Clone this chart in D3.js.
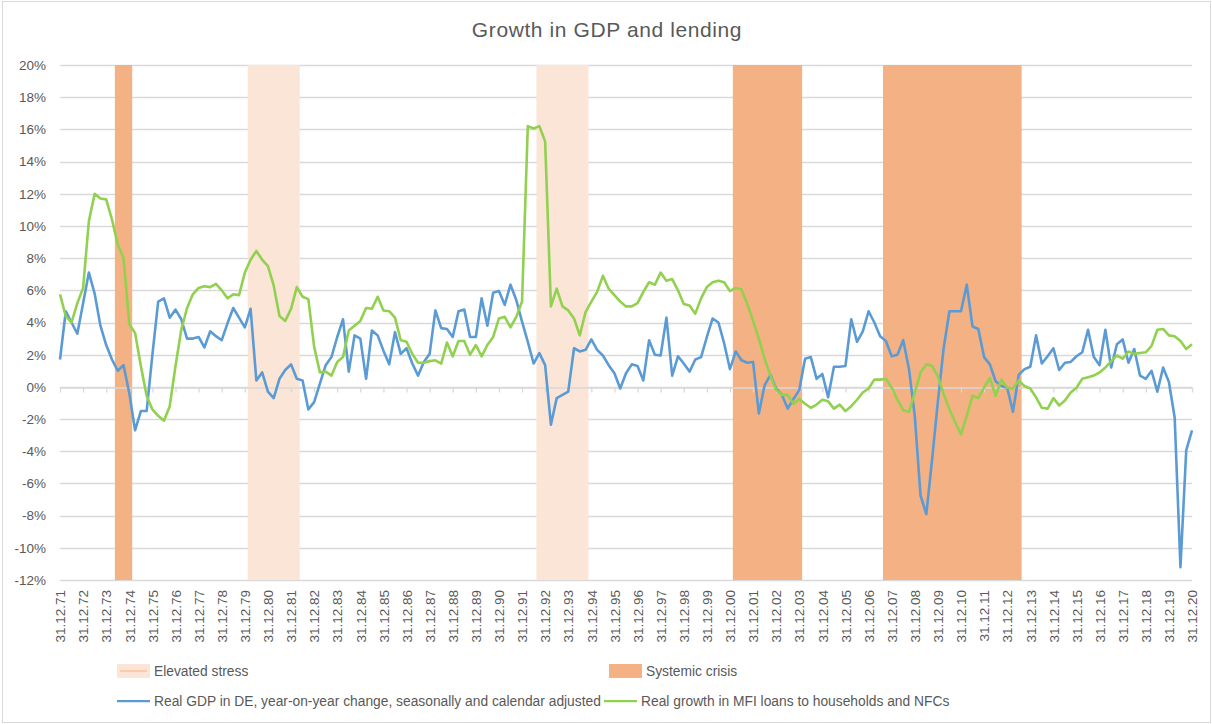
<!DOCTYPE html>
<html lang="en">
  <head>
    <meta charset="UTF-8" />
    <title>Growth in GDP and lending</title>
    <style>
      body { margin: 0; background: #fff; }
      svg text { font-family: "Liberation Sans", Arial, sans-serif; fill: #595959; }
    </style>
  </head>
  <body>
    <svg width="1212" height="724"></svg>
    <script src="https://d3js.org/d3.v7.min.js"></script>
    <script>
      // quarter-end dates 31.12.71 .. 31.12.20
      var quarterEnds = ["31.03.", "30.06.", "30.09.", "31.12."];
      var categories = ["31.12.71"];
      for (var yr = 72; yr <= 120; yr++) {
        quarterEnds.forEach(function(q) {
          categories.push(q + String(yr % 100).padStart(2, "0"));
        });
      }

      // Real GDP in DE, y-o-y change (%)
      var gdp = [
        1.7, 4.7, 4.0, 3.3, 5.2, 7.1, 5.8, 3.8, 2.6, 1.7,
        1.0, 1.35, -0.4, -2.7, -1.5, -1.5, 2.0, 5.3, 5.5, 4.3,
        4.8, 4.2, 3.0, 3.0, 3.1, 2.45, 3.45, 3.15, 2.9, 3.95,
        4.9, 4.3, 3.7, 4.85, 0.4, 0.9, -0.3, -0.7, 0.5, 1.05,
        1.4, 0.5, 0.4, -1.4, -0.95, 0.2, 1.35, 1.85, 3.1, 4.2,
        0.95, 3.2, 3.0, 0.5, 3.5, 3.2, 2.25, 1.4, 3.4, 2.05,
        2.4, 1.45, 0.7, 1.55, 2.05, 4.75, 3.65, 3.6, 3.1, 4.7,
        4.8, 3.1, 3.1, 5.5, 3.8, 5.85, 5.95, 5.1, 6.35, 5.4,
        4.05, 2.8, 1.45, 2.1, 1.35, -2.35, -0.7, -0.5, -0.3, 2.4,
        2.2, 2.3, 2.95, 2.3, 1.95, 1.35, 0.85, -0.1, 0.85, 1.4,
        1.3, 0.4, 2.9, 2.0, 1.95, 4.3, 0.7, 1.9, 1.45, 0.95,
        1.7, 1.85, 3.1, 4.25, 4.0, 2.7, 1.1, 2.2, 1.65, 1.5,
        1.55, -1.65, 0.1, 0.75, -0.1, -0.5, -1.35, -0.75, -0.2, 1.75,
        1.85, 0.5, 0.8, -0.65, 1.25, 1.25, 1.3, 4.2, 2.8, 3.45,
        4.7, 4.0, 3.15, 2.85, 1.9, 2.0, 2.9, 1.1, -1.8, -6.75,
        -7.9, -4.5, -0.9, 2.4, 4.7, 4.7, 4.7, 6.35, 3.75, 3.6,
        1.85, 1.4, 0.35, 0.05, -0.05, -1.55, 0.75, 1.1, 1.25, 3.2,
        1.45, 1.9, 2.4, 1.05, 1.5, 1.55, 1.9, 2.15, 3.55, 1.85,
        1.35, 3.55, 1.2, 2.65, 2.95, 1.5, 2.35, 0.7, 0.5, 1.0,
        -0.3, 1.2, 0.3, -1.9, -11.2, -3.95, -2.7
      ];

      // Real growth in MFI loans to households and NFCs (%)
      var loans = [
        5.75, 4.4, 4.0, 5.2, 6.15, 10.3, 12.0, 11.7, 11.65, 10.4,
        8.85, 8.0, 3.9, 3.35, 1.3, -0.55, -1.4, -1.8, -2.1, -1.2,
        1.3, 3.55, 4.9, 5.75, 6.15, 6.25, 6.2, 6.4, 6.0, 5.5,
        5.75, 5.7, 7.1, 7.9, 8.45, 7.9, 7.5, 6.3, 4.4, 4.1,
        4.85, 6.2, 5.6, 5.45, 2.5, 0.9, 0.95, 0.7, 1.55, 1.85,
        3.5, 3.8, 4.1, 4.9, 4.85, 5.6, 4.75, 4.7, 4.3, 2.9,
        2.8, 2.05, 1.5, 1.5, 1.6, 1.65, 1.45, 2.75, 1.9, 2.85,
        2.85, 2.0, 2.6, 1.9, 2.6, 3.1, 4.25, 4.35, 3.7, 4.35,
        5.3, 16.2, 16.05, 16.2, 15.25, 5.0, 6.1, 5.0, 4.75, 4.25,
        3.2, 4.65, 5.3, 5.9, 6.9, 6.1, 5.7, 5.3, 5.0, 5.0,
        5.2, 5.9, 6.5, 6.35, 7.1, 6.6, 6.7, 6.0, 5.15, 5.05,
        4.55, 5.5, 6.2, 6.5, 6.6, 6.5, 5.95, 6.15, 6.05, 5.15,
        4.1, 3.0, 1.75, 0.7, -0.2, -0.5, -0.5, -1.05, -0.75, -1.05,
        -1.3, -1.1, -0.8, -0.9, -1.35, -1.1, -1.5, -1.2, -0.8, -0.35,
        -0.1, 0.45, 0.45, 0.5, -0.05, -0.8, -1.45, -1.55, -0.35, 0.9,
        1.4, 1.3, 0.65, -0.45, -1.4, -2.2, -2.95, -1.8, -0.55, -0.7,
        -0.05, 0.55, -0.55, 0.45, -0.05, -0.1, 0.4, 0.05, -0.1, -0.65,
        -1.3, -1.35, -0.7, -1.15, -0.85, -0.35, -0.05, 0.5, 0.6, 0.7,
        0.9, 1.2, 1.6, 1.95, 1.75, 2.2, 2.05, 2.1, 2.15, 2.55,
        3.55, 3.6, 3.2, 3.15, 2.85, 2.35, 2.65
      ];

      // stress periods (first and last quarter)
      var elevatedStress = [["31.03.80", "31.03.82"], ["30.09.92", "30.09.94"]];
      var systemicCrisis = [["30.06.74", "31.12.74"], ["31.03.01", "31.12.03"], ["30.09.07", "30.06.13"]];

      var yTicks = d3.range(-12, 21, 2);
      var xTickLabels = categories.filter(function(d, i) { return i % 4 === 0; });

      var svg = d3.select("svg");

      // chart border
      svg.append("rect")
        .attr("x", 2.5).attr("y", 1.5)
        .attr("width", 1208).attr("height", 721)
        .attr("fill", "none").attr("stroke", "#d9d9d9");

      var x = d3.scalePoint().domain(categories).range([60, 1192]);
      var y = d3.scaleLinear().domain([-12, 20]).range([580, 65]);
      var step = x.step();

      // gridlines
      svg.append("g")
        .selectAll("line")
        .data(yTicks)
        .enter().append("line")
        .attr("x1", 60).attr("x2", 1192)
        .attr("y1", function(d) { return Math.round(y(d)) + 0.5; })
        .attr("y2", function(d) { return Math.round(y(d)) + 0.5; })
        .attr("stroke", "#d9d9d9").attr("stroke-width", 1.3);

      function drawBands(list, color) {
        svg.append("g")
          .selectAll("rect")
          .data(list)
          .enter().append("rect")
          .attr("x", function(d) { return x(d[0]) - step / 2; })
          .attr("width", function(d) { return x(d[1]) - x(d[0]) + step; })
          .attr("y", y(20))
          .attr("height", y(-12) - y(20))
          .attr("fill", color);
      }
      drawBands(elevatedStress, "#fbe5d6");
      drawBands(systemicCrisis, "#f4b183");

      // zero line with tick marks
      var zeroAxis = svg.append("g")
        .attr("transform", "translate(0," + (Math.round(y(0)) + 0.5) + ")")
        .call(d3.axisBottom(x).tickValues(xTickLabels).tickSize(5).tickSizeOuter(0).tickFormat(""));
      zeroAxis.selectAll("line, path").attr("stroke", "#d9d9d9").attr("stroke-width", 1.3);

      // x labels
      var xAxis = svg.append("g")
        .attr("transform", "translate(0," + y(-12) + ")")
        .call(d3.axisBottom(x).tickValues(xTickLabels).tickSize(0));
      xAxis.select(".domain").remove();
      xAxis.selectAll("text")
        .attr("transform", "rotate(-90)")
        .attr("x", -10).attr("y", 0).attr("dy", "0.35em")
        .style("text-anchor", "end")
        .style("font-size", "13.5px");

      // y labels
      var yAxis = svg.append("g")
        .attr("transform", "translate(60,0)")
        .call(d3.axisLeft(y).tickValues(yTicks).tickSize(0).tickPadding(14)
          .tickFormat(function(d) { return d + "%"; }));
      yAxis.select(".domain").remove();
      yAxis.selectAll("text").style("font-size", "13.5px");

      // lines
      var line = d3.line()
        .x(function(d, i) { return x(categories[i]); })
        .y(function(d) { return y(d); });

      svg.append("path").datum(gdp)
        .attr("d", line).attr("fill", "none")
        .attr("stroke", "#5b9bd5").attr("stroke-width", 2.6)
        .attr("stroke-linejoin", "round");

      svg.append("path").datum(loans)
        .attr("d", line).attr("fill", "none")
        .attr("stroke", "#92d050").attr("stroke-width", 2.6)
        .attr("stroke-linejoin", "round");

      // title
      svg.append("text")
        .attr("x", 607).attr("y", 37)
        .attr("text-anchor", "middle")
        .style("font-size", "21px")
        .style("letter-spacing", "0.6px")
        .text("Growth in GDP and lending");

      // legend
      var legend = svg.append("g").style("font-size", "13.8px");

      legend.append("rect").attr("x", 117).attr("y", 664).attr("width", 33).attr("height", 14).attr("fill", "#fbe5d6");
      legend.append("line").attr("x1", 120).attr("x2", 147).attr("y1", 671).attr("y2", 671)
        .attr("stroke", "#f8cbad").attr("stroke-width", 2);
      legend.append("text").attr("x", 154).attr("y", 671).attr("dy", "0.35em").text("Elevated stress");

      legend.append("rect").attr("x", 609).attr("y", 664).attr("width", 33).attr("height", 14).attr("fill", "#f4b183");
      legend.append("text").attr("x", 646).attr("y", 671).attr("dy", "0.35em").text("Systemic crisis");

      legend.append("line").attr("x1", 117).attr("x2", 150).attr("y1", 701).attr("y2", 701)
        .attr("stroke", "#5b9bd5").attr("stroke-width", 2.25);
      legend.append("text").attr("x", 154).attr("y", 701).attr("dy", "0.35em")
        .text("Real GDP in DE, year-on-year change, seasonally and calendar adjusted");

      legend.append("line").attr("x1", 604).attr("x2", 637).attr("y1", 701).attr("y2", 701)
        .attr("stroke", "#92d050").attr("stroke-width", 2.25);
      legend.append("text").attr("x", 641).attr("y", 701).attr("dy", "0.35em")
        .text("Real growth in MFI loans to households and NFCs");
    </script>
  </body>
</html>
